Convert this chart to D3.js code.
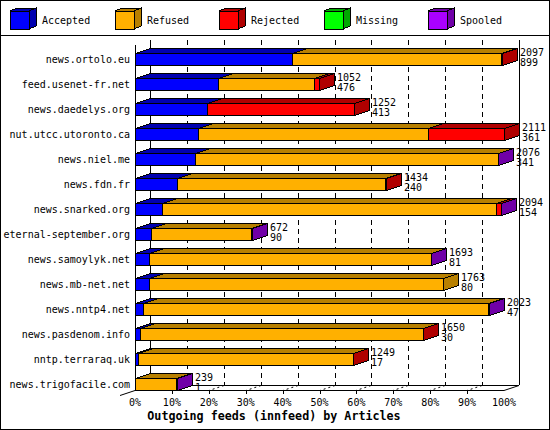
<!DOCTYPE html>
<html><head><meta charset="utf-8">
<script src="https://cdn.jsdelivr.net/npm/d3@7"></script>
<style>
html,body{margin:0;padding:0;background:#fff;}
svg{display:block;}
text{font-family:"DejaVu Sans Mono","Liberation Mono",monospace;}
</style></head>
<body><svg id="c" width="550" height="430"></svg>
<script>
const hosts = ["news.ortolo.eu","feed.usenet-fr.net","news.daedelys.org","nut.utcc.utoronto.ca","news.niel.me","news.fdn.fr","news.snarked.org","eternal-september.org","news.samoylyk.net","news.mb-net.net","news.nntp4.net","news.pasdenom.info","nntp.terraraq.uk","news.trigofacile.com"];
const totals   = [2097,1052,1252,2111,2076,1434,2094,672,1693,1763,2023,1650,1249,239];
const accepted = [899,476,413,361,341,240,154,90,81,80,47,30,17,1];
const refused  = [1195,549,0,1317,1733,1192,1914,574,1610,1683,1974,1617,1228,235];
const rejected = [3,27,839,433,0,2,24,0,0,0,0,3,4,0];
const missing  = [0,0,0,0,0,0,0,0,0,0,0,0,0,0];
const spooled  = [0,0,0,0,2,0,2,8,2,0,2,0,0,3];
const seriesNames = ["Accepted","Refused","Rejected","Missing","Spooled"];
const frontColors = ["#0000ff","#ffb000","#ff0000","#00ff00","#aa00ff"];
const darkColors  = ["#0000b0","#b88000","#b00000","#00a800","#7000a8"];
const tickPcts = [0,10,20,30,40,50,60,70,80,90,100];
const title = "Outgoing feeds (innfeed) by Articles";

const svg = d3.select("#c");
const series = [accepted, refused, rejected, missing, spooled];
const DX = 15, DY = -5;

// frame
svg.append("rect").attr("x",0.5).attr("y",0.5).attr("width",549).attr("height",429)
  .attr("fill","#fff").attr("stroke","#000");
svg.append("line").attr("x1",0).attr("x2",550).attr("y1",35.5).attr("y2",35.5).attr("stroke","#000");

// legend
const leg = svg.append("g").attr("shape-rendering","crispEdges");
seriesNames.forEach((n,i)=>{
  const x0 = Math.round(10 + i*104.6), y0 = 11, w=19, h=18, dx=7, dy=-3;
  const g = leg.append("g");
  g.append("polygon").attr("points",[[x0+w,y0],[x0+w+dx,y0+dy],[x0+w+dx,y0+h+dy],[x0+w,y0+h]].map(p=>p.join(",")).join(" "))
    .attr("fill",darkColors[i]).attr("stroke","#000");
  g.append("polygon").attr("points",[[x0,y0],[x0+dx,y0+dy],[x0+w+dx,y0+dy],[x0+w,y0]].map(p=>p.join(",")).join(" "))
    .attr("fill",darkColors[i]).attr("stroke","#000");
  g.append("rect").attr("x",x0+0.5).attr("y",y0+0.5).attr("width",w).attr("height",h)
    .attr("fill",frontColors[i]).attr("stroke","#000");
  svg.append("text").attr("x",x0+32).attr("y",24).attr("font-size","10px").text(n);
});

// scales
const maxTot = d3.max(totals);
const x = d3.scaleLinear().domain([0,maxTot]).range([135,504]);
const xp = d3.scaleLinear().domain([0,100]).range([135,504]);
const y = d3.scaleBand().domain(hosts).range([40,390]).paddingInner(0).paddingOuter(0);

// grid
const grid = svg.append("g").attr("shape-rendering","crispEdges");
tickPcts.forEach(p=>{
  const xb = Math.round(xp(p))+DX+0.5;
  const solid = (p===0||p===100);
  grid.append("line").attr("x1",xb).attr("x2",xb).attr("y1",40).attr("y2",385)
    .attr("stroke","#000").attr("stroke-dasharray",solid?null:"5,4");
});
// floor
const fl = svg.append("g");
fl.append("line").attr("x1",135).attr("x2",504).attr("y1",390.5).attr("y2",390.5).attr("stroke","#000");
fl.append("line").attr("x1",150).attr("x2",519).attr("y1",385.5).attr("y2",385.5).attr("stroke","#000");
fl.append("line").attr("x1",120).attr("y1",395.5).attr("x2",150).attr("y2",385.5).attr("stroke","#000");
fl.append("line").attr("x1",504).attr("y1",390.5).attr("x2",519).attr("y2",385.5).attr("stroke","#000");
fl.append("line").attr("x1",135.5).attr("x2",135.5).attr("y1",45).attr("y2",390).attr("stroke","#000");
tickPcts.slice(1,-1).forEach(p=>{
  const xf = Math.round(xp(p));
  fl.append("line").attr("x1",xf+DX).attr("y1",385.5).attr("x2",xf).attr("y2",390.5)
    .attr("stroke","#000").attr("stroke-dasharray","2,3");
  fl.append("line").attr("x1",xf+0.5).attr("x2",xf+0.5).attr("y1",390).attr("y2",394).attr("stroke","#000");
});
// tick labels
svg.append("g").selectAll("text").data(tickPcts).join("text")
  .attr("x",d=>xp(d)).attr("y",406).attr("text-anchor","middle").attr("font-size","10px")
  .text(d=>d+"%");
svg.append("text").attr("x",274).attr("y",420).attr("text-anchor","middle")
  .attr("font-size","11.7px").attr("font-weight","bold").text(title);

// bars
const bars = svg.append("g").attr("shape-rendering","crispEdges");
const pts = a=>a.map(p=>p.join(",")).join(" ");
hosts.forEach((h,r)=>{
  const yt = Math.round(y(h)) + 13 + 0.5, yb = yt + 12;
  let cum = 0;
  const segs = [];
  series.forEach((s,k)=>{
    const v = s[r];
    if (v>0){ segs.push({k, x0:Math.round(x(cum))+0.5, x1:Math.round(x(cum+v))+0.5}); cum += v; }
  });
  const g = bars.append("g");
  segs.forEach(sg=>{
    g.append("polygon").attr("points",pts([[sg.x0,yt],[sg.x0+DX,yt+DY],[sg.x1+DX,yt+DY],[sg.x1,yt]]))
      .attr("fill",darkColors[sg.k]).attr("stroke","#000");
  });
  segs.forEach(sg=>{
    g.append("rect").attr("x",sg.x0).attr("y",yt).attr("width",Math.max(0,sg.x1-sg.x0)).attr("height",12)
      .attr("fill",frontColors[sg.k]).attr("stroke","#000");
  });
  const last = segs[segs.length-1];
  g.append("polygon").attr("points",pts([[last.x1,yt],[last.x1+DX,yt+DY],[last.x1+DX,yb+DY],[last.x1,yb]]))
    .attr("fill",darkColors[last.k]).attr("stroke","#000");
  // labels
  svg.append("text").attr("x",130).attr("y",yb-2.5).attr("text-anchor","end").attr("font-size","10px").text(h);
  const tx = Math.round(x(totals[r])) + DX + 3;
  svg.append("text").attr("x",tx).attr("y",yb-10).attr("font-size","10px").text(totals[r]);
  svg.append("text").attr("x",tx).attr("y",yb).attr("font-size","10px").text(accepted[r]);
});
</script></body></html>
